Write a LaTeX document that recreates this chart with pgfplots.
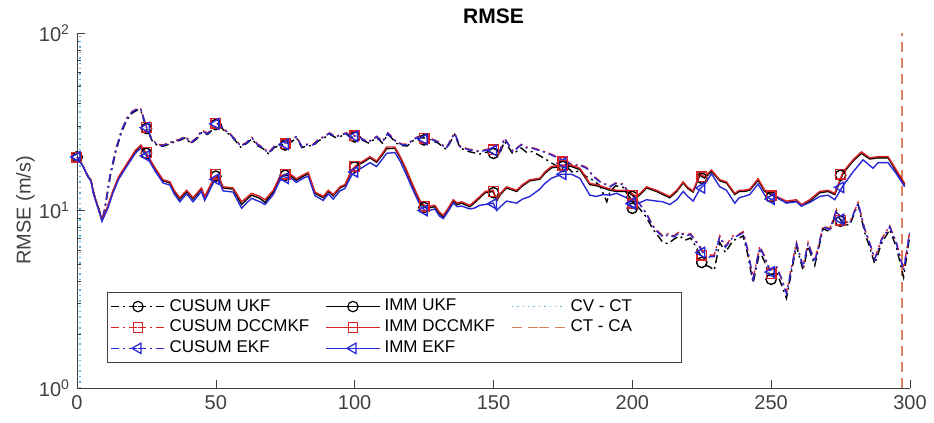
\documentclass[border=0pt]{standalone}
\usepackage{pgfplots}
\pgfplotsset{compat=1.18}
\usepackage{fontspec}
\setmainfont{Liberation Sans}
\definecolor{axgray}{RGB}{64,64,64}
\definecolor{mred}{RGB}{215,35,35}
\definecolor{mblue}{RGB}{40,40,215}
\definecolor{cvct}{RGB}{90,180,225}
\definecolor{ctca}{RGB}{215,130,90}
\tikzset{dashdot/.style={dash pattern=on 4pt off 2pt on 1pt off 2pt}}
\begin{document}
\begin{tikzpicture}
\begin{axis}[
  scale only axis, width=416.5pt, height=177.5pt,
  ymode=log, xmin=0, xmax=300, ymin=1, ymax=100,
  axis x line*=bottom, axis y line*=left,
  axis line style={axgray}, tick style={axgray},
  xtick={0,50,...,300}, ytick={1,10,100},
  yticklabels={10\textsuperscript{0},10\textsuperscript{1},10\textsuperscript{2}},
  tick align=inside, major tick length=4pt, minor tick length=2pt,
  ticklabel style={font=\fontsize{10}{12}\selectfont, text=axgray},
  /pgf/number format/assume math mode=true,
  title={\textbf{RMSE}}, title style={font=\fontsize{10.5}{12}\selectfont, yshift=-5pt},
  ylabel={RMSE (m/s)}, ylabel style={font=\fontsize{10}{12}\selectfont, text=axgray, at={(axis description cs:-0.062,0.5)}, anchor=center},
  legend columns=3,
  legend style={at={(0.036,0.07)}, anchor=south west, font=\fontsize{8.5}{10}\selectfont, draw=axgray, inner sep=1.5pt, row sep=-1pt, /tikz/every even column/.append style={column sep=6pt}},
  legend cell align=left,
  legend image code/.code={\draw[#1] (0pt,0pt) -- (13.5pt,0pt); \draw[#1] plot coordinates {(13.5pt,0pt)}; \draw[#1, mark=none] (13.5pt,0pt) -- (27pt,0pt);},
  every axis plot/.append style={line width=0.7pt},
]
% vertical markers
\addplot[cvct, dotted, line width=0.8pt, forget plot] coordinates {(1,1)(1,100)};
\addplot[ctca, dash pattern=on 5pt off 3pt, line width=0.9pt, forget plot] coordinates {(297,1)(297,100)};

% CUSUM UKF (black)
\addplot[black, dashdot, forget plot] coordinates {
(0,20)(2,18)(4,15.5)(5,14.9)(6,12.5)(8,10)(9,8.8)(10,10)(12,15.6)(14,21.5)(16,27.5)(18,32.5)(20,35.5)(22,37)(23,36.5)(25,29)(27,24.8)(29,23.2)(31,23)(33,23.6)(35,24.3)(37,24.8)(39,25.7)(41,23.8)(43,25.2)(45,27.6)(47,26.8)(49,28.7)(51,30.6)(53,28.2)(55,26.7)(57,24.8)(59,22.7)(61,23.8)(63,25.3)(65,23.2)(67,22.3)(69,20.8)(71,22.6)(73,23.2)(75,23.7)(77,24.2)(79,25.7)(81,22.6)(83,23.2)(85,23.1)(87,24.7)(89,25.7)(91,26.9)(93,25.8)(95,26.2)(97,26.9)(99,25.8)(101,26.2)(103,24.8)(105,24)(108,25.7)(110,24)(112,26.9)(115,24)(117,23.2)(119,23.1)(121,24.7)(123,25.7)(126,25.6)(128,24.7)(130,24)(133,22.1)(136,26.8)(138,22.5)(141,21.5)(145,20.8)(148,21.4)(150,21)(152,20.5)(154,24.5)(157,20.8)(160,22.5)(162,21.2)(164,21.5)(168,19.8)(171,18.5)(174.5,17.2)(176,17.8)(178.7,16.3)(181,16.8)(183.5,15.5)(186,14.8)(188.3,13.8)(190.8,11.2)(192,12.8)(194,13.8)(196.7,13.5)(198,12.5)(200.3,11.2)(202.7,10.2)(205,9.2)(207.5,7.8)(209,7.3)(211,6.6)(213,6.5)(215,6.9)(217,7.2)(219,6.8)(221,7)(222.5,6.4)(224.3,5.7)(226.7,4.9)(228,4.8)(229.5,4.6)(231.5,6.6)(233.5,5.8)(236.3,6.8)(238,6.9)(239.9,7.2)(241.5,5.7)(243.5,3.9)(245.9,5.9)(247.5,5.2)(249.5,4.3)(251.9,4.5)(253.5,3.9)(255.5,3.2)(259.1,6.3)(261.5,4.6)(263.3,6.3)(265.7,4.9)(268.7,7.9)(271.1,7.6)(273.5,9.8)(275.9,8.3)(278.3,8.3)(281.3,10.8)(283.7,7.5)(285.5,6.2)(287.3,5)(289.7,6.5)(292.7,7.8)(295.1,6.2)(297.7,4.2)(299.9,7.2)};
% CUSUM DCCMKF (red)
\addplot[mred, dashdot, forget plot] coordinates {
(0,20)(2,18)(4,15.5)(5,14.9)(6,12.5)(8,10)(9,8.8)(10,10.3)(12,16.2)(14,22.3)(16,28.3)(18,33.3)(20,36.3)(22,37.8)(23,37.3)(25,29.8)(27,25.2)(29,23.6)(31,23.4)(33,24.1)(35,24.7)(37,25.2)(39,26.2)(41,24.2)(43,25.7)(45,28.3)(47,27.3)(49,29.3)(51,31.3)(53,28.8)(55,27.2)(57,25.2)(59,23.2)(61,24.2)(63,25.8)(65,23.7)(67,22.7)(69,21.2)(71,23)(73,23.6)(75,24.2)(77,24.7)(79,26.2)(81,23)(83,23.7)(85,23.6)(87,25.2)(89,26.2)(91,27.4)(93,26.2)(95,26.7)(97,27.4)(99,26.2)(101,26.7)(103,25.2)(105,24.5)(108,26.2)(110,24.5)(112,27.4)(115,24.5)(117,23.7)(119,23.6)(121,25.2)(123,26.2)(126,26.2)(128,25.2)(130,24.5)(133,22.6)(136,27.4)(138,23)(141,22.2)(145,21.6)(148,22.2)(150,22.6)(152,21.2)(154,25.6)(157,21.6)(160,23.6)(162,22.7)(164,22.6)(168,21.6)(171,20.7)(174.5,19.5)(176,19.2)(178.7,17.9)(181,18.2)(183.5,17.5)(186,15.7)(188.3,14.6)(192,13.7)(194,14.3)(196.7,14.1)(198,13.1)(200.3,12.1)(202.7,10.9)(205,9.7)(207.5,8.2)(209,7.7)(211,7.2)(213,7.4)(215,7.2)(217,7.6)(219,7.3)(221,7.4)(222.5,6.9)(224.3,6.3)(226.7,5.4)(228,5.6)(229.5,5.6)(231.5,7.2)(233.5,6.3)(236.3,7.2)(238,7.3)(239.9,7.6)(241.5,6.1)(243.5,4.15)(245.9,6.3)(247.5,5.6)(249.5,4.65)(251.9,4.85)(253.5,4.25)(255.5,3.45)(259.1,6.6)(261.5,4.85)(263.3,6.6)(265.7,5.2)(268.7,8.2)(271.1,7.9)(273.5,10.1)(275.9,8.6)(278.3,8.6)(281.3,11.1)(283.7,7.9)(285.5,6.6)(287.3,5.35)(289.7,6.9)(292.7,8.2)(295.1,6.6)(297.7,4.7)(299.9,7.6)};
% CUSUM EKF (blue)
\addplot[mblue, dashdot, forget plot] coordinates {
(0,20)(2,18)(4,15.5)(5,14.9)(6,12.5)(8,10)(9,8.8)(10,10.2)(12,16)(14,22)(16,28)(18,33)(20,36)(22,37.5)(23,37)(25,29.5)(27,25)(29,23.4)(31,23.2)(33,23.9)(35,24.5)(37,25)(39,26)(41,24)(43,25.5)(45,28)(47,27)(49,29)(51,31)(53,28.5)(55,27)(57,25)(59,23)(61,24)(63,25.6)(65,23.5)(67,22.5)(69,21)(71,22.8)(73,23.4)(75,24)(77,24.5)(79,26)(81,22.8)(83,23.5)(85,23.4)(87,25)(89,26)(91,27.2)(93,26)(95,26.5)(97,27.2)(99,26)(101,26.5)(103,25)(105,24.3)(108,26)(110,24.3)(112,27.2)(115,24.3)(117,23.5)(119,23.4)(121,25)(123,26)(126,26)(128,25)(130,24.3)(133,22.4)(136,27.2)(138,22.8)(141,22)(145,21.4)(148,22)(150,22.4)(152,21)(154,25.4)(157,21.4)(160,23.4)(162,22.5)(164,22.4)(168,21.4)(171,20.5)(174.5,19.3)(176,19)(178.7,17.7)(181,18)(183.5,17.3)(186,15.5)(188.3,14.5)(192,13.6)(194,14.2)(196.7,14)(198,13)(200.3,12)(202.7,10.8)(205,9.6)(207.5,8.1)(209,7.6)(211,7.1)(213,7.3)(215,7.1)(217,7.5)(219,7.2)(221,7.3)(222.5,6.8)(224.3,6.2)(226.7,5.3)(228,5.5)(229.5,5.5)(231.5,7.1)(233.5,6.2)(236.3,7.1)(238,7.2)(239.9,7.5)(241.5,6)(243.5,4.1)(245.9,6.2)(247.5,5.5)(249.5,4.6)(251.9,4.8)(253.5,4.2)(255.5,3.4)(259.1,6.5)(261.5,4.8)(263.3,6.5)(265.7,5.1)(268.7,8.1)(271.1,7.8)(273.5,10)(275.9,8.5)(278.3,8.5)(281.3,11)(283.7,7.8)(285.5,6.5)(287.3,5.3)(289.7,6.8)(292.7,8.1)(295.1,6.5)(297.7,4.6)(299.9,7.5)};

% IMM UKF (black)
\addplot[black, forget plot] coordinates {
(0,20)(2,18)(4,15.5)(5,14.9)(6,12.5)(8,10)(9,8.8)(11,10.4)(13,12.9)(15,15.3)(18,18.2)(21,21.5)(23,23.1)(25,20.8)(28,17.3)(31,14.7)(33.5,14.3)(35,12.8)(37,11.6)(39.5,12.8)(41.8,11.6)(44.8,13.2)(46,11.8)(49,14.7)(50.8,15.6)(52.6,13.4)(56.2,13.2)(59.3,10.8)(61,11.5)(62.9,12.2)(65.9,11.7)(67.7,11.1)(70.7,12.7)(73,15.2)(74.3,15.6)(76.5,15.9)(79,14.8)(81.5,15.6)(83.3,16.1)(85.7,12.5)(88.7,11.8)(90.5,12.8)(92.3,12.1)(94.7,13.4)(96.5,13.8)(98.9,16.6)(101.3,18.1)(103.1,18.7)(105.5,19.8)(107.9,18.7)(110,20.6)(111.5,22.3)(114.5,22.4)(116.5,19.7)(118.7,16.6)(120.5,14.2)(122.3,12.3)(124,10.8)(125.9,10.3)(128.9,10.5)(130.5,9.6)(131.9,9.2)(133.5,10)(135.5,11.3)(137,10.8)(138.5,11)(141.5,10.5)(143,11)(145.1,11.8)(147,12.6)(149.9,12.8)(151.1,11.3)(152.5,12.3)(154.7,13.4)(158.3,12.8)(160.5,13.8)(163.1,14.7)(166.7,15)(168.5,16.2)(170.9,17.4)(174.5,17.7)(178.1,17.7)(181.1,17)(184.7,14)(187,13.8)(189.5,13.4)(192,13)(194.3,12.8)(197.9,12.8)(201.5,11.8)(203.5,12.6)(205.1,13.4)(208.7,12.8)(211,12.3)(213.5,11.8)(216,12.8)(218.3,14.3)(220,13.3)(221.9,12.7)(224.3,15.8)(226,15.2)(228.5,16.6)(231.5,14.7)(233.9,14.3)(236.9,12.3)(238.5,12.8)(240.2,12.8)(242.3,13)(245.3,14.8)(247.7,12.8)(250,12.3)(251.9,11.8)(255.5,11.1)(259.1,11.3)(260.9,10.6)(263.9,11.3)(267.5,12.6)(270.5,12.8)(272.9,12.3)(275.9,16.2)(279.5,19)(282.5,21)(285.5,19.5)(288.5,19.8)(292.1,19.8)(295.1,16.6)(298.1,14)};
% IMM DCCMKF (red)
\addplot[mred, forget plot] coordinates {
(0,20)(2,18)(4,15.5)(5,14.9)(6,12.5)(8,10)(9,8.8)(11,10.5)(13,13)(15,15.5)(18,18.4)(21,21.8)(23,23.4)(25,21)(28,17.5)(31,14.9)(33.5,14.5)(35,13)(37,11.8)(39.5,13)(41.8,11.8)(44.8,13.4)(46,12)(49,14.9)(50.8,15.9)(52.6,13.6)(56.2,13.4)(59.3,11.2)(61,11.8)(62.9,12.5)(65.9,12)(67.7,11.5)(70.7,13)(73,15.5)(74.3,15.9)(76.5,16.2)(79,15.1)(81.5,15.9)(83.3,16.4)(85.7,12.7)(88.7,12)(90.5,13)(92.3,12.3)(94.7,13.6)(96.5,14)(98.9,16.9)(101.3,18.4)(103.1,19)(105.5,20.1)(107.9,19)(110,21)(111.5,22.8)(114.5,22.8)(116.5,20)(118.7,16.9)(120.5,14.5)(122.3,12.5)(124,11)(125.9,10.5)(128.9,10.7)(130.5,9.8)(131.9,9.4)(133.5,10.2)(135.5,11.5)(137,11)(138.5,11.2)(141.5,10.7)(143,11.2)(145.1,12)(147,12.8)(149.9,13)(151.1,11.5)(152.5,12.5)(154.7,13.6)(158.3,13)(160.5,14)(163.1,14.9)(166.7,15.2)(168.5,16.5)(170.9,17.7)(174.5,18)(178.1,18)(181.1,17.3)(184.7,14.2)(187,14)(189.5,13.6)(192,13.2)(194.3,13)(197.9,13)(201.5,12)(203.5,12.8)(205.1,13.6)(208.7,13)(211,12.5)(213.5,12)(216,13)(218.3,14.5)(220,13.5)(221.9,12.9)(224.3,16.1)(226,15.5)(228.5,16.9)(231.5,14.9)(233.9,14.5)(236.9,12.5)(238.5,13)(240.2,13)(242.3,13.2)(245.3,15.1)(247.7,13)(250,12.5)(251.9,12)(255.5,11.3)(259.1,11.5)(260.9,10.8)(263.9,11.5)(267.5,12.8)(270.5,13)(272.9,12.5)(275.9,16.5)(279.5,19.3)(282.5,21.4)(285.5,19.8)(288.5,20.1)(292.1,20.1)(295.1,16.9)(298.1,14.2)};
% IMM EKF (blue)
\addplot[mblue, forget plot] coordinates {
(0,20)(2,18)(4,15.5)(5,14.6)(6,12.3)(8,9.8)(9,8.7)(11,10.2)(13,12.6)(15,15)(18,17.8)(21,21)(23,22.5)(25,20.3)(28,16.8)(31,14.3)(33.5,13.9)(35,12.4)(37,11.2)(39.5,12.4)(41.8,11.2)(44.8,12.8)(46,11.4)(49,14.2)(50.8,15.2)(52.6,12.9)(56.2,12.7)(59.3,10.3)(61,11)(62.9,11.7)(65.9,11.2)(67.7,10.8)(70.7,12.3)(73,14.7)(74.3,15.1)(76.5,15.5)(79,14.4)(81.5,15.2)(83.3,15.6)(85.7,12.1)(88.7,11.4)(90.5,12.4)(92.3,11.6)(94.7,12.9)(96.5,13.3)(98.9,15.8)(101.3,16.9)(103.1,17.6)(105.5,18.6)(107.9,17.7)(110,19.5)(111.5,21)(114.5,21.2)(116.5,18.8)(118.7,15.8)(120.5,13.6)(122.3,11.8)(124,10.4)(125.9,9.9)(128.9,10.2)(130.5,9.3)(131.9,9)(133.5,9.8)(135.5,11)(137,10.5)(138.5,10.6)(141.5,10.2)(143,10.3)(145.1,10.7)(147,10.8)(149.9,11)(151.1,10)(152.5,10.5)(154.7,11.3)(158.3,11)(160.5,11.6)(163.1,12)(166.7,13.2)(168.5,14.2)(170.9,15.2)(174.5,16)(178.1,16)(181.1,15.2)(184.7,12.2)(187,12)(189.5,12.3)(192,12.2)(194.3,12.5)(197.9,11.8)(201.5,10.9)(203.5,11.2)(205.1,11.5)(208.7,11.3)(211,11.2)(213.5,10.8)(216,11.5)(218.3,12.8)(220,12)(221.9,11.3)(224.3,13.2)(226,14)(228.5,16.1)(231.5,13.6)(233.9,13)(236.9,11)(238.5,11.8)(240.2,12)(242.3,12.3)(245.3,14.1)(247.7,12.2)(250,11.5)(251.9,11.9)(255.5,11)(259.1,11.2)(260.9,10.6)(263.9,11.1)(267.5,12)(270.5,12.2)(272.9,11.5)(275.9,13.8)(279.5,16.5)(283.1,19.3)(286.7,17.3)(288.5,18.6)(292.1,18.6)(295.1,16.1)(298.1,13.6)};

% markers every 25 samples
\addplot[black, only marks, mark=o, mark size=2.6pt, forget plot] coordinates {(0,20)(25,29)(50,30.5)(75,23.4)(100,26)(125,25)(150,21)(175,18)(200,10.3)(225,5.1)(250,4.1)(275,8.7)};
\addplot[mred, only marks, mark=square, mark size=2.4pt, forget plot] coordinates {(0,20)(25,29.5)(50,31)(75,23.8)(100,26.3)(125,25.5)(150,22)(175,18.8)(200,11)(225,5.6)(250,4.4)(275,8.8)};
\addplot[mblue, only marks, mark=triangle, mark size=3pt, mark options={rotate=90}, forget plot] coordinates {(0,20)(25,29.3)(50,30.8)(75,23.6)(100,26.2)(125,25.2)(150,21.8)(175,18.5)(200,10.9)(225,5.8)(250,4.5)(275,8.9)};
\addplot[black, only marks, mark=o, mark size=2.6pt, forget plot] coordinates {(0,20)(25,21)(50,15.6)(75,15.8)(100,17.6)(125,10.4)(150,12.6)(175,17.7)(200,12)(225,15.2)(250,11.9)(275,15.8)};
\addplot[mred, only marks, mark=square, mark size=2.4pt, forget plot] coordinates {(0,20)(25,21.2)(50,16)(75,16)(100,17.8)(125,10.6)(150,12.8)(175,18)(200,12.2)(225,15.5)(250,12.1)(275,16)};
\addplot[mblue, only marks, mark=triangle, mark size=3pt, mark options={rotate=90}, forget plot] coordinates {(0,20)(25,20.3)(50,15)(75,15.2)(100,16.5)(125,10)(150,10.9)(175,16)(200,11)(225,13.4)(250,11.6)(275,13.5)};

% legend (row-wise order gives MATLAB's column layout)
\addlegendimage{black, dashdot, line width=0.6pt, mark=o, mark size=2.6pt, mark options={solid}}
\addlegendentry{CUSUM UKF}
\addlegendimage{black, line width=0.6pt, mark=o, mark size=2.6pt}
\addlegendentry{IMM UKF}
\addlegendimage{cvct, dotted, line width=0.7pt}
\addlegendentry{\makebox[52pt][l]{CV - CT}}
\addlegendimage{mred, dashdot, line width=0.6pt, mark=square, mark size=2.4pt, mark options={solid}}
\addlegendentry{CUSUM DCCMKF}
\addlegendimage{mred, line width=0.6pt, mark=square, mark size=2.4pt}
\addlegendentry{IMM DCCMKF}
\addlegendimage{ctca, dash pattern=on 5pt off 3pt, line width=0.8pt}
\addlegendentry{CT - CA}
\addlegendimage{mblue, dashdot, line width=0.6pt, mark=triangle, mark size=3pt, mark options={solid, rotate=90}}
\addlegendentry{CUSUM EKF}
\addlegendimage{mblue, line width=0.6pt, mark=triangle, mark size=3pt, mark options={rotate=90}}
\addlegendentry{IMM EKF}
\end{axis}
\pgfresetboundingbox
\path (-38.5pt,-17.5pt) rectangle (428.5pt,194pt);
\end{tikzpicture}
\end{document}
